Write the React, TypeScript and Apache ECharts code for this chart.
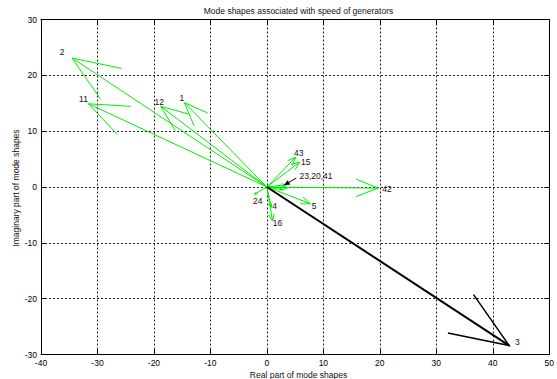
import React, { useEffect, useRef } from 'react';
import * as echarts from 'echarts';

// Mode shape vectors (real, imaginary) per generator
const vectorNames = ['2', '11', '12', '1', '43', '15', '23', '20', '41', '42', '5', '4', '16', '24', '3'];
const realParts = [-34.5, -31.6, -18.8, -14.6, 5.1, 5.8, 3.3, 3.6, 2.8, 19.7, 7.7, 0.75, 1.0, -2.2, 42.9];
const imagParts = [23.1, 14.9, 14.45, 15.1, 5.36, 4.46, 0.4, -0.2, -0.5, -0.2, -3.0, -3.65, -6.1, -1.3, -28.4];
const highlightedNames = ['3'];

const xTicks = { min: -40, max: 50, interval: 10 };
const yTicks = { min: -30, max: 30, interval: 10 };

// group annotation
const annotationText = '23,20,41';
const annotationTail = [5.2, 1.6];
const annotationHead = [3.1, 0.35];
const annotationTextAt = [8.7, 1.9];

const titleText = 'Mode shapes associated with speed of generators';
const xLabelText = 'Real part of mode shapes';
const yLabelText = 'Imaginary part of mode shapes';

// label offsets in pixels from arrow tip (style)
const labelOffsets: Record<string, [number, number] | null> = {
  '2': [-10, -6],
  '11': [-5, -4.5],
  '12': [-1.5, -4.5],
  '1': [-2.5, -4.5],
  '43': [3, -3.8],
  '15': [6, 0.2],
  '23': null,
  '20': null,
  '41': null,
  '42': [8.8, 1],
  '5': [3.7, 2.7],
  '4': [3.4, -1],
  '16': [5, 2.3],
  '24': [3.3, 7.2],
  '3': [8.3, -3.8],
};

const FONT = '"Liberation Sans", Arial, Helvetica, sans-serif';
const GREEN = '#00f000';
const TEXT = '#111';

export default function App() {
  const ref = useRef<HTMLDivElement>(null);
  useEffect(() => {
    if (!ref.current) return;
    const chart = echarts.init(ref.current, null, { renderer: 'svg' });

    const data = realParts.map((r, i) => [r, imagParts[i], i]);

    const renderArrow = (params: any, api: any) => {
      const x = api.value(0);
      const y = api.value(1);
      const idx = api.value(2);
      const name = vectorNames[idx];
      const hl = highlightedNames.includes(name);
      const o = api.coord([0, 0]);
      const tip = api.coord([x, y]);
      // MATLAB compass arrow head: 0.8*z +/- 0.08*i*z
      const b1 = api.coord([0.8 * x - 0.08 * y, 0.8 * y + 0.08 * x]);
      const b2 = api.coord([0.8 * x + 0.08 * y, 0.8 * y - 0.08 * x]);
      const color = hl ? '#000' : GREEN;
      const children: any[] = [
        {
          type: 'polyline',
          shape: { points: [o, tip] },
          style: { stroke: color, lineWidth: hl ? 2 : 1, fill: null },
        },
        {
          type: 'polyline',
          shape: { points: [b1, tip, b2] },
          style: { stroke: color, lineWidth: hl ? 1.5 : 1, fill: null },
        },
      ];
      const off = labelOffsets[name];
      if (off) {
        children.push({
          type: 'text',
          x: tip[0] + off[0],
          y: tip[1] + off[1],
          style: {
            text: name,
            fill: TEXT,
            font: `8.5px ${FONT}`,
            align: 'center',
            verticalAlign: 'middle',
          },
        });
      }
      return { type: 'group', children };
    };

    const renderAnnotation = (params: any, api: any) => {
      const tail = api.coord(annotationTail);
      const head = api.coord(annotationHead);
      const tp = api.coord(annotationTextAt);
      const dx = head[0] - tail[0];
      const dy = head[1] - tail[1];
      const len = Math.sqrt(dx * dx + dy * dy);
      const ux = dx / len;
      const uy = dy / len;
      const hl = 5;
      const hw = 2.2;
      const base = [head[0] - ux * hl, head[1] - uy * hl];
      const p1 = [base[0] - uy * hw, base[1] + ux * hw];
      const p2 = [base[0] + uy * hw, base[1] - ux * hw];
      return {
        type: 'group',
        children: [
          {
            type: 'line',
            shape: { x1: tail[0], y1: tail[1], x2: base[0], y2: base[1] },
            style: { stroke: '#000', lineWidth: 1 },
          },
          {
            type: 'polygon',
            shape: { points: [head, p1, p2] },
            style: { fill: '#000', stroke: '#000', lineWidth: 0.5 },
          },
          {
            type: 'text',
            x: tp[0],
            y: tp[1],
            style: {
              text: annotationText,
              fill: TEXT,
              font: `8.5px ${FONT}`,
              align: 'center',
              verticalAlign: 'middle',
            },
          },
        ],
      };
    };

    const axisLineStyle = { lineStyle: { color: '#000', width: 1 } };
    const tickStyle = { show: true, inside: true, length: 5, lineStyle: { color: '#000', width: 1 } };
    const gridLine = { show: true, lineStyle: { color: '#222', width: 1, type: [2, 2] as any } };

    chart.setOption({
      animation: false,
      backgroundColor: '#fff',
      grid: { left: 41, right: 0, top: 19.5, bottom: 24.5, containLabel: false },
      xAxis: [
        {
          type: 'value',
          position: 'bottom',
          min: xTicks.min,
          max: xTicks.max,
          interval: xTicks.interval,
          axisLine: { show: true, onZero: false, ...axisLineStyle },
          axisTick: tickStyle,
          splitLine: gridLine,
          axisLabel: { color: '#000', fontSize: 8.5, fontFamily: FONT, margin: 4 },
        },
        {
          type: 'value',
          position: 'top',
          min: xTicks.min,
          max: xTicks.max,
          interval: xTicks.interval,
          axisLine: { show: true, onZero: false, ...axisLineStyle },
          axisTick: tickStyle,
          splitLine: { show: false },
          axisLabel: { show: false },
        },
      ],
      yAxis: [
        {
          type: 'value',
          position: 'left',
          min: yTicks.min,
          max: yTicks.max,
          interval: yTicks.interval,
          axisLine: { show: true, onZero: false, ...axisLineStyle },
          axisTick: tickStyle,
          splitLine: gridLine,
          axisLabel: { color: '#000', fontSize: 8.5, fontFamily: FONT, margin: 4 },
        },
        {
          type: 'value',
          position: 'right',
          min: yTicks.min,
          max: yTicks.max,
          interval: yTicks.interval,
          axisLine: { show: true, onZero: false, ...axisLineStyle },
          axisTick: tickStyle,
          splitLine: { show: false },
          axisLabel: { show: false },
        },
      ],
      graphic: [
        {
          type: 'text',
          x: 298.5,
          y: 10.5,
          style: { text: titleText, fill: TEXT, font: `8.5px ${FONT}`, align: 'center', verticalAlign: 'middle' },
        },
        {
          type: 'text',
          x: 298.5,
          y: 375,
          style: { text: xLabelText, fill: TEXT, font: `8.5px ${FONT}`, align: 'center', verticalAlign: 'middle' },
        },
        {
          type: 'text',
          x: 15.5,
          y: 188,
          rotation: Math.PI / 2,
          style: { text: yLabelText, fill: TEXT, font: `8.5px ${FONT}`, align: 'center', verticalAlign: 'middle' },
        },
      ],
      series: [
        {
          type: 'custom',
          xAxisIndex: 0,
          yAxisIndex: 0,
          renderItem: renderArrow,
          encode: { x: 0, y: 1 },
          data,
          clip: false,
          z: 5,
        },
        {
          type: 'custom',
          xAxisIndex: 0,
          yAxisIndex: 0,
          renderItem: renderAnnotation,
          data: [[annotationHead[0], annotationHead[1]]],
          encode: { x: 0, y: 1 },
          clip: false,
          z: 6,
        },
      ],
    });
    return () => chart.dispose();
  }, []);
  return <div ref={ref} style={{ position: 'fixed', left: 0, top: 0, width: 557, height: 379 }} />;
}
